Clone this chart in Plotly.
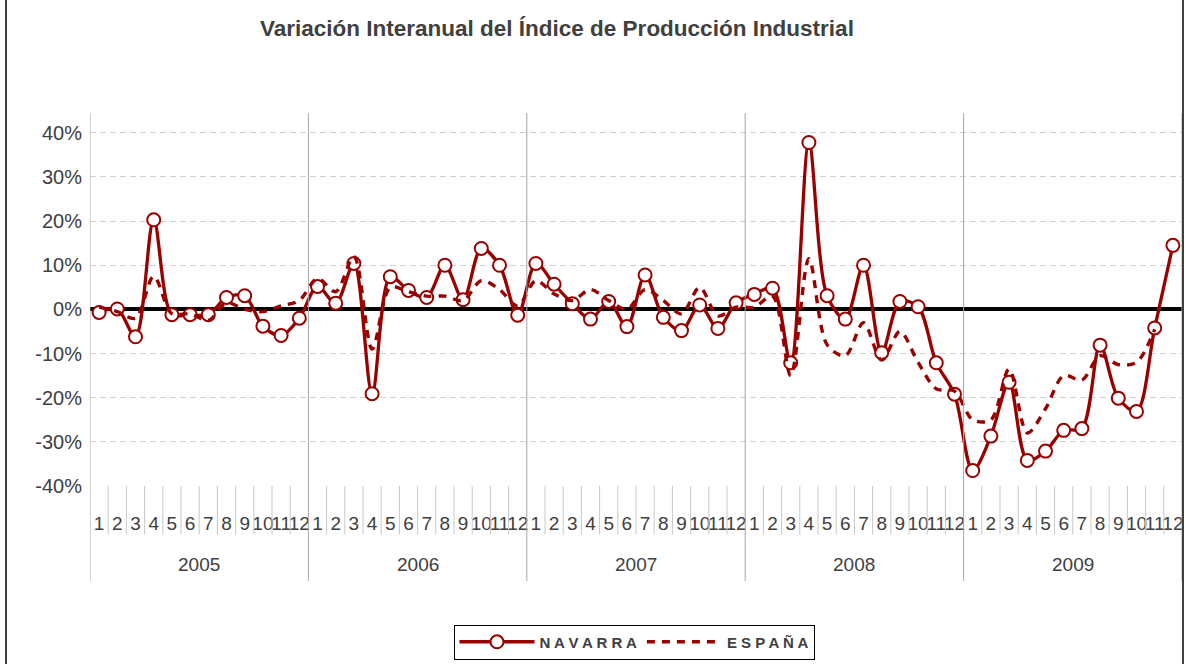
import plotly.graph_objects as go

# Industrial production index, year-on-year change (%), monthly 2005-2009
years = ["2005", "2006", "2007", "2008", "2009"]
months = [str(m) for m in range(1, 13)]

navarra = [
    -0.7, 0.1, -6.2, 20.3, -1.2, -1.2, -1.2, 2.7, 3.1, -3.8, -5.9, -2.0,      # 2005
    5.2, 1.4, 10.4, -19.1, 7.4, 4.3, 2.7, 10.0, 2.2, 13.8, 10.0, -1.3,        # 2006
    10.4, 5.7, 1.3, -2.2, 1.8, -3.9, 7.8, -1.8, -4.8, 1.0, -4.3, 1.5,         # 2007
    3.4, 4.8, -12.1, 37.8, 3.1, -2.2, 10.0, -9.8, 1.8, 0.6, -12.1, -19.2,     # 2008
    -36.5, -28.7, -16.5, -34.2, -32.1, -27.4, -27.0, -8.1, -20.1, -23.1, -4.2, 14.5,  # 2009
]

espana = [
    0.5, -0.5, -2.0, 7.5, -1.0, -1.0, -2.5, 1.5, 0.0, -0.5, 0.8, 2.0,
    7.0, 4.0, 12.0, -9.0, 5.0, 4.0, 3.0, 3.0, 2.0, 6.5, 4.5, 0.8,
    6.5, 3.5, 2.0, 4.5, 2.0, 0.0, 4.5, 2.0, -1.0, 5.0, -1.5, 0.5,
    0.5, 3.0, -15.0, 11.5, -8.0, -10.5, -3.0, -11.5, -5.0, -12.0, -18.0, -18.5,
    -25.0, -25.0, -13.5, -28.0, -22.5, -15.0, -16.0, -10.5, -12.5, -12.0, -4.5, None,
]

y_ticks = [-40, -30, -20, -10, 0, 10, 20, 30, 40]
y_labels = [f"{v}%" for v in y_ticks]

RED = "#990000"
TEXT = "#404040"
SANS = "Liberation Sans, Arial, sans-serif"
NARROW = "Liberation Sans Narrow, Arial Narrow, Liberation Sans, Arial, sans-serif"

n = len(years) * len(months)
x = list(range(n))
month_labels = months * len(years)

fig = go.Figure()

fig.add_trace(go.Scatter(
    x=x, y=navarra, name="N A V A R R A", mode="lines+markers",
    line=dict(color=RED, width=3.3, shape="spline", smoothing=0.9),
    marker=dict(symbol="circle", size=13, color="white",
                line=dict(color=RED, width=2)),
))
fig.add_trace(go.Scatter(
    x=x, y=espana, name="E S P A Ñ A", mode="lines",
    line=dict(color=RED, width=3.4, dash="8px,7px", shape="spline", smoothing=0.9),
    connectgaps=False,
))

# plot area geometry (paper units)
plot_top_px, plot_bottom_px = 113, 490
plot_h = plot_bottom_px - plot_top_px
def py(px):
    return (plot_bottom_px - px) / plot_h

shapes = []
# year separators through plot area and label band
for k in range(len(years) + 1):
    shapes.append(dict(type="line", xref="x", yref="paper",
                       x0=k * 12 - 0.5, x1=k * 12 - 0.5, y0=py(586), y1=1,
                       line=dict(color="#A6A6A6", width=1)))
# month separators in the label band
for i in range(1, n):
    if i % 12:
        shapes.append(dict(type="line", xref="x", yref="paper",
                           x0=i - 0.5, x1=i - 0.5, y0=py(539), y1=0,
                           line=dict(color="#C8C8C8", width=1)))
# outer chart border (left and right edges visible)
shapes.append(dict(type="rect", xref="paper", yref="paper",
                   x0=(6 - 90) / 1092, x1=(1183 - 90) / 1092,
                   y0=py(680), y1=py(-10),
                   line=dict(color="#404040", width=2), layer="above"))

annotations = [
    dict(text="Variación Interanual del Índice de Producción Industrial",
         xref="paper", yref="paper", x=(258 - 90) / 1092, y=py(28),
         xanchor="left", yanchor="middle", showarrow=False,
         font=dict(family=SANS, size=22.5, color=TEXT, weight="bold")),
]
for k, yr in enumerate(years):
    annotations.append(dict(text=yr, xref="x", yref="paper",
                            x=k * 12 + 5.5, y=py(569),
                            xanchor="center", yanchor="middle", showarrow=False,
                            font=dict(family=NARROW, size=19, color=TEXT)))

fig.update_layout(
    width=1186, height=664,
    margin=dict(l=90, r=4, t=plot_top_px, b=664 - plot_bottom_px),
    paper_bgcolor="white", plot_bgcolor="white",
    showlegend=True,
    legend=dict(orientation="h", x=(634 - 90) / 1092, xanchor="center",
                y=py(630), yanchor="top",
                bordercolor="#000000", borderwidth=1, bgcolor="white",
                font=dict(family=SANS, size=15, color=TEXT, weight="bold"),
                itemwidth=75, tracegroupgap=0),
    shapes=shapes,
    annotations=annotations,
    xaxis=dict(range=[-0.5, n - 0.5], tickmode="array", tickvals=x,
               ticktext=month_labels, ticks="outside", ticklen=20,
               tickcolor="rgba(0,0,0,0)", showgrid=False, zeroline=False,
               showline=False, tickangle=0,
               tickfont=dict(family=NARROW, size=19, color=TEXT)),
    yaxis=dict(range=[-40, 40 + 20 / (357 / 80)], tickmode="array",
               tickvals=y_ticks, ticktext=y_labels,
               showgrid=True, gridcolor="#D0D0D0", gridwidth=1, griddash="6px,4px",
               zeroline=True, zerolinecolor="#000000", zerolinewidth=3.5,
               showline=False, ticks="outside", ticklen=3,
               tickcolor="rgba(0,0,0,0)",
               tickfont=dict(family=SANS, size=20, color=TEXT)),
)

fig.write_html("out.html")
